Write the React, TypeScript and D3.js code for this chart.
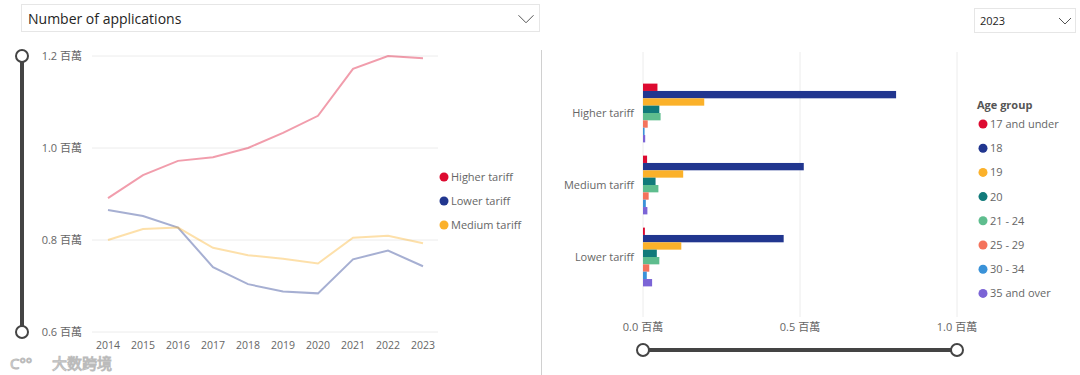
import React from 'react';
import * as d3 from 'd3';

const years = [2014, 2015, 2016, 2017, 2018, 2019, 2020, 2021, 2022, 2023];
const higherTariff = [0.891, 0.941, 0.972, 0.98, 1.0, 1.033, 1.07, 1.172, 1.2, 1.195];
const lowerTariff = [0.865, 0.852, 0.827, 0.741, 0.704, 0.688, 0.684, 0.758, 0.777, 0.743];
const mediumTariff = [0.8, 0.824, 0.827, 0.783, 0.767, 0.759, 0.749, 0.805, 0.809, 0.793];
const tariffNames = ['Higher tariff', 'Lower tariff', 'Medium tariff'];
const tariffColors = ['#dd0a30', '#21368f', '#fbb12a'];
const yTicks = [0.6, 0.8, 1.0, 1.2];

const barCategories = ['Higher tariff', 'Medium tariff', 'Lower tariff'];
const ageGroups = ['17 and under', '18', '19', '20', '21 - 24', '25 - 29', '30 - 34', '35 and over'];
const ageColors = ['#dd0a30', '#21368f', '#fbb12a', '#117a7a', '#5ebd8e', '#f4735c', '#3a92d8', '#7b64d6'];
const higherByAge = [0.046, 0.806, 0.195, 0.052, 0.056, 0.015, 0.005, 0.007];
const mediumByAge = [0.013, 0.512, 0.128, 0.04, 0.049, 0.018, 0.009, 0.014];
const lowerByAge = [0.006, 0.448, 0.122, 0.044, 0.052, 0.02, 0.012, 0.029];
const xTicks = [0, 0.5, 1.0];

const FONT = '"Segoe UI", "Open Sans", "Noto Sans", "Noto Sans CJK TC", sans-serif';
const GREY = '#666';

export default function App() {
  const series = [higherTariff, lowerTariff, mediumTariff];
  const x = d3.scalePoint<number>().domain(years).range([108, 423]);
  const y = d3.scaleLinear().domain([0.6, 1.2]).range([332, 56]);
  const line = d3
    .line<number>()
    .x((_, i) => x(years[i]) as number)
    .y((d) => y(d));

  const bx = d3.scaleLinear().domain([0, 1]).range([643, 957]);
  const by = d3.scaleBand<string>().domain(barCategories).range([77, 293]);
  const byInner = d3
    .scaleBand<string>()
    .domain(ageGroups)
    .range([0, by.bandwidth()])
    .paddingInner(0)
    .paddingOuter(0.9);
  const barData = [higherByAge, mediumByAge, lowerByAge];
  const fmt = (v: number) => `${v.toFixed(1)} 百萬`;

  const chevron = (cx: number, cy: number, w: number) =>
    `M${cx - w / 2},${cy - w / 4} L${cx},${cy + w / 4} L${cx + w / 2},${cy - w / 4}`;

  return (
    <svg width={1080} height={375} style={{ position: 'absolute', left: 0, top: 0, fontFamily: FONT }}>
      <rect width={1080} height={375} fill="#fff" />
      {/* dropdown left */}
      <rect x={21.5} y={4.5} width={518} height={27} fill="#fff" stroke="#e6e6e6" />
      <text x={28} y={23.5} fontSize={14} fill="#252423">Number of applications</text>
      <path d={chevron(526, 19, 15)} fill="none" stroke="#555" strokeWidth={1} />

      {/* left chart grid */}
      {yTicks.map((t) => (
        <g key={t}>
          <line x1={92} x2={438} y1={y(t)} y2={y(t)} stroke="#ececec" strokeWidth={1} />
          <text x={82} y={y(t) + 4} fontSize={11} fill={GREY} textAnchor="end">{fmt(t)}</text>
        </g>
      ))}
      {years.map((yr) => (
        <text key={yr} x={x(yr)} y={349} fontSize={10.5} fill={GREY} textAnchor="middle">{yr}</text>
      ))}
      {series.map((s, i) => (
        <path key={i} d={line(s) || ''} fill="none" stroke={tariffColors[i]} strokeOpacity={0.4} strokeWidth={2} />
      ))}
      {tariffNames.map((n, i) => (
        <g key={n}>
          <circle cx={444} cy={177 + i * 24} r={4.5} fill={tariffColors[i]} />
          <text x={451} y={181 + i * 24} fontSize={11} fill={GREY}>{n}</text>
        </g>
      ))}

      {/* vertical slider */}
      <line x1={22} x2={22} y1={y(1.2)} y2={y(0.6)} stroke="#444" strokeWidth={4} />
      <circle cx={22} cy={y(1.2)} r={6} fill="#fff" stroke="#444" strokeWidth={2} />
      <circle cx={22} cy={y(0.6)} r={6} fill="#fff" stroke="#444" strokeWidth={2} />

      {/* divider */}
      <line x1={541.5} x2={541.5} y1={50} y2={375} stroke="#d0d0d0" strokeWidth={1} />

      {/* dropdown right */}
      <rect x={974.5} y={8.5} width={101} height={24} fill="#fff" stroke="#e6e6e6" />
      <text x={980} y={25} fontSize={11} fill="#252423">2023</text>
      <path d={chevron(1065, 21, 12)} fill="none" stroke="#555" strokeWidth={1} />

      {/* bar chart grid */}
      {xTicks.map((t) => (
        <g key={t}>
          <line x1={bx(t)} x2={bx(t)} y1={52} y2={317} stroke="#ececec" strokeWidth={1} />
          <text x={bx(t)} y={331} fontSize={11} fill={GREY} textAnchor="middle">{fmt(t)}</text>
        </g>
      ))}
      {barCategories.map((c, ci) => (
        <g key={c}>
          <text x={634} y={(by(c) as number) + by.bandwidth() / 2 + 4} fontSize={11} fill={GREY} textAnchor="end">{c}</text>
          {ageGroups.map((a, ai) => (
            <rect
              key={a}
              x={bx(0)}
              y={(by(c) as number) + (byInner(a) as number)}
              width={bx(barData[ci][ai]) - bx(0)}
              height={byInner.bandwidth()}
              fill={ageColors[ai]}
            />
          ))}
        </g>
      ))}

      {/* age legend */}
      <text x={977} y={109} fontSize={11} fontWeight="bold" fill="#555">Age group</text>
      {ageGroups.map((a, i) => (
        <g key={a}>
          <circle cx={983} cy={124 + i * 24.2} r={4.5} fill={ageColors[i]} />
          <text x={990} y={128 + i * 24.2} fontSize={11} fill={GREY}>{a}</text>
        </g>
      ))}

      {/* horizontal slider */}
      <line x1={bx(0)} x2={bx(1)} y1={350} y2={350} stroke="#444" strokeWidth={4} />
      <circle cx={bx(0)} cy={350} r={6} fill="#fff" stroke="#444" strokeWidth={2} />
      <circle cx={bx(1)} cy={350} r={6} fill="#fff" stroke="#444" strokeWidth={2} />

      {/* watermark */}
      <text x={10} y={369} fontSize={15} fill="#fff" stroke="#bbb" strokeWidth={1} fontFamily={FONT}>C°°</text>
      <text x={52} y={369} fontSize={15} fill="#fff" stroke="#bbb" strokeWidth={1} fontFamily={FONT}>大数跨境</text>
    </svg>
  );
}
